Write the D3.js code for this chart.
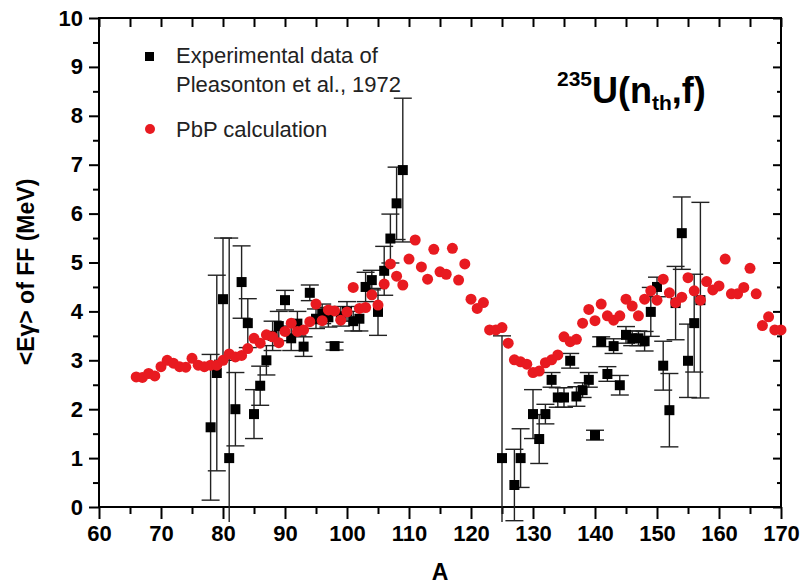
<!DOCTYPE html>
<html>
<head>
<meta charset="utf-8">
<script src="https://cdn.jsdelivr.net/npm/d3@7"></script>
<style>
body { margin: 0; background: #fff; }
text { font-family: "Liberation Sans", Arial, sans-serif; }
</style>
</head>
<body>
<svg id="chart" width="800" height="587"></svg>
<script>
// PbP calculation, mean gamma energy per fragment mass
var calcA = [66,67,68,69,70,71,72,73,74,75,76,77,78,79,80,81,82,83,84,85,86,87,88,89,90,
  91,92,93,94,95,96,97,98,99,100,101,102,103,104,105,106,107,108,109,110,111,112,113,114,115,
  116,117,118,119,120,121,122,123,124,125,126,127,128,129,130,131,132,133,134,135,136,137,138,139,140,
  141,142,143,144,145,146,147,148,149,150,151,152,153,154,155,156,157,158,159,160,161,162,163,164,165,
  166,167,168,169,170];
var calcE = [2.66,2.65,2.73,2.68,2.87,3.0,2.94,2.87,2.86,3.04,2.9,2.87,2.9,2.9,3.0,3.13,3.07,3.1,3.24,3.45,
  3.35,3.52,3.48,3.36,3.59,3.76,3.59,3.62,3.79,4.15,3.81,4.03,4.01,3.82,3.99,4.49,4.06,4.08,4.34,4.13,
  4.56,4.97,4.72,4.54,5.07,5.46,4.91,4.66,5.27,4.81,4.76,5.29,4.64,4.97,4.25,4.06,4.18,3.62,3.62,3.67,
  3.35,3.01,2.97,2.92,2.75,2.78,2.95,3.01,3.11,3.48,3.38,3.43,3.76,4.04,3.81,4.15,3.91,3.82,3.91,4.25,
  4.11,3.91,4.25,4.42,4.23,4.66,4.38,4.18,4.29,4.69,4.42,4.23,4.61,4.44,4.52,5.07,4.36,4.36,4.49,4.88,
  4.36,3.71,3.89,3.62,3.62];

// Pleasonton et al., 1972
var expA = [78,79,80,81,82,83,84,85,86,87,88,89,90,91,92,93,94,95,96,97,98,99,100,101,102,103,104,105,106,107,108,109,
  125,127,128,130,131,132,133,134,135,136,137,138,139,140,141,142,143,144,145,146,147,148,149,150,151,152,153,154,155,156,157];
var expE = [1.63,2.74,4.25,1.0,2.0,4.6,3.76,1.9,2.48,3.0,3.5,3.7,4.23,3.45,3.75,3.28,4.38,3.85,3.95,3.88,3.29,3.9,4.0,3.8,3.85,4.5,4.64,3.99,4.83,5.49,6.21,6.89,
  1.0,0.45,1.0,1.9,1.39,1.9,2.6,2.24,2.24,2.99,2.26,2.39,2.6,1.47,3.38,2.72,3.29,2.49,3.52,3.45,3.45,3.39,3.99,4.5,2.89,1.98,4.17,5.6,2.99,3.76,4.23];
var expErr = [1.49,2.0,1.25,4.5,0.75,0.74,0.5,0.5,0.4,0.3,0.3,0.3,0.2,0.25,0.25,0.2,0.16,0.2,0.2,0.2,0.08,0.2,0.2,0.2,0.25,0.3,0.2,0.48,0.5,0.5,0.74,1.47,
  2.5,0.73,0.6,0.5,0.5,0.2,0.15,0.2,0.2,0.15,0.2,0.15,0.15,0.1,0.1,0.15,0.15,0.2,0.17,0.15,0.15,0.2,0.5,0.2,0.5,0.75,0.75,0.74,0.75,1.0,2.0];

var xMajor = [60,70,80,90,100,110,120,130,140,150,160,170];
var xMinor = [65,75,85,95,105,115,125,135,145,155,165];
var yMajor = [0,1,2,3,4,5,6,7,8,9,10];
var yMinor = [0.5,1.5,2.5,3.5,4.5,5.5,6.5,7.5,8.5,9.5];

var svg = d3.select('#chart'),
    pl = 99, pr = 781, pt = 18, pb = 507,
    x = d3.scaleLinear().domain([60, 170]).range([pl, pr]),
    y = d3.scaleLinear().domain([0, 10]).range([pb, pt]);

var exp = expA.map(function(a, i){ return {a: a, e: expE[i], err: expErr[i]} });
var calc = calcA.map(function(a, i){ return {a: a, e: calcE[i]} });

// axes: majors with labels, minors without
function styleAxis(g){
  g.select('.domain').remove();
  g.selectAll('line').attr('stroke', '#000').attr('stroke-width', 2);
  g.selectAll('text').attr('font-size', 22).attr('font-weight', 'bold').attr('fill', '#000')
    .attr('font-family', '"Liberation Sans", Arial, sans-serif');
}
svg.append('g').attr('transform', 'translate(0,' + pb + ')')
  .call(d3.axisBottom(x).tickValues(xMajor).tickSize(12).tickPadding(6).tickFormat(d3.format('d')))
  .call(styleAxis);
svg.append('g').attr('transform', 'translate(0,' + pb + ')')
  .call(d3.axisBottom(x).tickValues(xMinor).tickSize(7).tickFormat(''))
  .call(styleAxis);
svg.append('g').attr('transform', 'translate(0,' + pt + ')')
  .call(d3.axisTop(x).tickValues(xMajor.concat(xMinor)).tickSize(-9).tickFormat(''))
  .call(styleAxis);
svg.append('g').attr('transform', 'translate(' + pl + ',0)')
  .call(d3.axisLeft(y).tickValues(yMajor).tickSize(10).tickPadding(6).tickFormat(d3.format('d')))
  .call(styleAxis);
svg.append('g').attr('transform', 'translate(' + pl + ',0)')
  .call(d3.axisLeft(y).tickValues(yMinor).tickSize(6).tickFormat(''))
  .call(styleAxis);
svg.append('g').attr('transform', 'translate(' + pr + ',0)')
  .call(d3.axisRight(y).tickValues(yMajor).tickSize(-8).tickFormat(''))
  .call(styleAxis);
svg.append('g').attr('transform', 'translate(' + pr + ',0)')
  .call(d3.axisRight(y).tickValues(yMinor).tickSize(-4).tickFormat(''))
  .call(styleAxis);

svg.append('rect').attr('x', pl).attr('y', pt)
  .attr('width', pr - pl).attr('height', pb - pt)
  .attr('fill', 'none').attr('stroke', '#000').attr('stroke-width', 2);

// error bars may run a little below the axis
svg.append('clipPath').attr('id', 'clip').append('rect')
  .attr('x', pl).attr('y', 0).attr('width', pr - pl).attr('height', 522);

var bars = svg.append('g').attr('clip-path', 'url(#clip)')
  .attr('stroke', '#222').attr('stroke-width', 1.4);
bars.selectAll('line.v').data(exp).join('line').attr('class', 'v')
  .attr('x1', d => x(d.a)).attr('x2', d => x(d.a))
  .attr('y1', d => y(d.e + d.err)).attr('y2', d => y(d.e - d.err));
bars.selectAll('line.t').data(exp).join('line').attr('class', 't')
  .attr('x1', d => x(d.a) - 9).attr('x2', d => x(d.a) + 9)
  .attr('y1', d => y(d.e + d.err)).attr('y2', d => y(d.e + d.err));
bars.selectAll('line.b').data(exp).join('line').attr('class', 'b')
  .attr('x1', d => x(d.a) - 9).attr('x2', d => x(d.a) + 9)
  .attr('y1', d => y(d.e - d.err)).attr('y2', d => y(d.e - d.err));

svg.append('g').selectAll('rect').data(exp).join('rect')
  .attr('x', d => x(d.a) - 5).attr('y', d => y(d.e) - 5)
  .attr('width', 10).attr('height', 10).attr('fill', '#000');

svg.append('g').selectAll('circle').data(calc).join('circle')
  .attr('cx', d => x(d.a)).attr('cy', d => y(d.e)).attr('r', 5.5)
  .attr('fill', '#e81a20');

// legend
svg.append('rect').attr('x', 145).attr('y', 52).attr('width', 9).attr('height', 9).attr('fill', '#000');
svg.append('circle').attr('cx', 150).attr('cy', 129).attr('r', 5).attr('fill', '#e81a20');
var legText = svg.append('g').attr('font-size', 22).attr('fill', '#222');
legText.append('text').attr('x', 176).attr('y', 63).text('Experimental data of');
legText.append('text').attr('x', 176).attr('y', 92).text('Pleasonton et al., 1972');
legText.append('text').attr('x', 176).attr('y', 137).text('PbP calculation');

// reaction label
var title = svg.append('text').attr('x', 557).attr('y', 103).attr('font-weight', 'bold').attr('fill', '#000');
title.append('tspan').attr('font-size', 21).attr('dy', -17).text('235');
title.append('tspan').attr('font-size', 36).attr('dy', 17).text('U(n');
title.append('tspan').attr('font-size', 21).attr('dy', 7).text('th');
title.append('tspan').attr('font-size', 36).attr('dy', -7).text(',f)');

// axis titles
svg.append('text').attr('x', (pl + pr) / 2).attr('y', 580).attr('text-anchor', 'middle')
  .attr('font-size', 23).attr('font-weight', 'bold').text('A');
svg.append('text').attr('transform', 'translate(34,272) rotate(-90)').attr('text-anchor', 'middle')
  .attr('font-size', 23).attr('font-weight', 'bold').text('<Eγ> of FF (MeV)');
</script>
</body>
</html>
